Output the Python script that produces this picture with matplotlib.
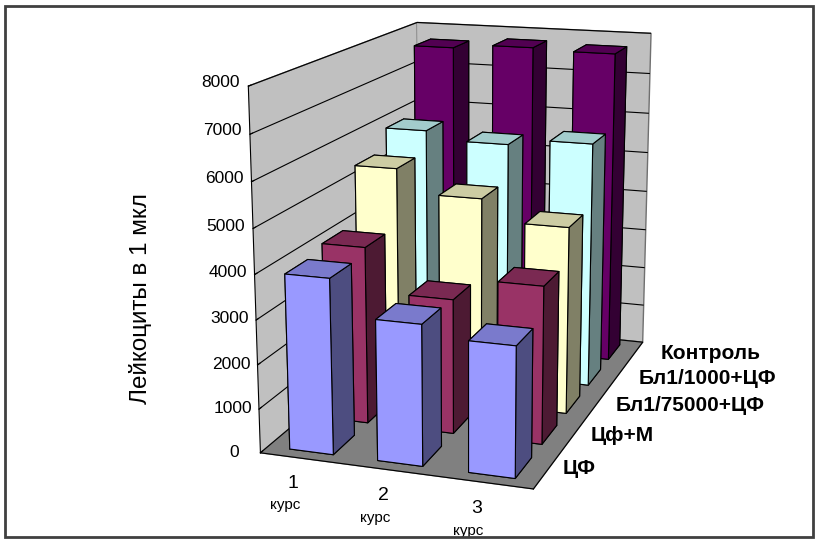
import numpy as np
import matplotlib
matplotlib.use('Agg')
import matplotlib.pyplot as plt
from matplotlib.colors import to_rgba
from matplotlib.patches import Rectangle
from mpl_toolkits.mplot3d import proj3d

plt.rcParams['font.family'] = ['Liberation Sans', 'DejaVu Sans']

# data (leukocytes per 1 mcl)
courses = ['1', '2', '3']
course_word = 'курс'
series = ['ЦФ', 'Цф+М', 'Бл1/75000+ЦФ', 'Бл1/1000+ЦФ', 'Контроль']
cf = [3950, 3150, 2900]
cf_m = [4100, 3100, 3600]
bl_75000 = [5450, 4900, 4400]
bl_1000 = [5950, 5750, 5900]
control = [7650, 7750, 7700]
colors = ['#9999FF', '#993366', '#FFFFCC', '#CCFFFF', '#660066']

rows = [cf, cf_m, bl_75000, bl_1000, control]

fig = plt.figure(figsize=(8.2, 5.47), dpi=100)
ax = fig.add_axes([0.229, 0.0675, 0.667, 1.0], projection='3d')
ax.set_proj_type('persp', focal_length=0.58)
ax.view_init(elev=14.7, azim=-71.5)
ax.set_box_aspect((289, 470, 377), zoom=1.09)

# one collection for all bars so faces get depth-sorted together
xs, ys, dz, fc = [], [], [], []
bw, bd = 0.5, 0.6
for j, vals in enumerate(rows):
    base = np.array(to_rgba(colors[j]))
    top = base * [0.8, 0.8, 0.8, 1]
    side = base * [0.5, 0.5, 0.5, 1]
    for i, v in enumerate(vals):
        xs.append(i + 0.5 - bw / 2)
        ys.append(j + 0.5 - bd / 2)
        dz.append(v)
        # -z, +z, -y, +y, -x, +x
        fc.extend([base, top, base, base, base, side])

ax.bar3d(xs, ys, np.zeros(len(xs)), bw, bd, dz, color=fc, shade=False,
         edgecolor='black', linewidth=0.8)

ax.set_xlim(0, 3)
ax.set_ylim(0, 5)
ax.set_zlim(0, 8000)

ax.xaxis.set_pane_color('#c0c0c0')
ax.yaxis.set_pane_color('#c0c0c0')
ax.zaxis.set_pane_color('#808080')
for a in (ax.xaxis, ax.yaxis, ax.zaxis):
    a.pane.set_edgecolor('#707070')
    a.line.set_color('black')
    a.line.set_linewidth(0.8)
    a.label.set_visible(False)

ax.grid(True)
ax.zaxis._axinfo['grid'].update(color='black', linewidth=0.8, linestyle='-')
ax.zaxis._axinfo['tick']['inward_factor'] = 0
ax.zaxis._axinfo['tick']['outward_factor'] = 0.15
ax.zaxis.set_ticks_position('lower')

ax.set_zticks(range(0, 8001, 1000))
ax.set_zticklabels([str(t) for t in range(0, 8001, 1000)], fontsize=12.5,
                   va='bottom')
ax.set_xticks([])
ax.set_yticks([])

# draw once so the projection is known, then put the category labels
# at projected data points as plain 2D texts
fig.canvas.draw()
M = ax.get_proj()


def label_at(x, y, z, s, **kw):
    px, py, _ = proj3d.proj_transform(x, y, z, M)
    ax.text2D(px, py, s, transform=ax.transData, **kw)


for i, c in enumerate(courses):
    label_at(i + 0.5, -0.3, -330, c, fontsize=14, ha='center', va='center')
    label_at(i + 0.43, -0.35, -800, course_word, fontsize=11,
             ha='center', va='center')
for j, s in enumerate(series):
    label_at(3.17 + 0.04 * j, j + 0.5, 100, s, fontsize=15, fontweight='bold',
             ha='left', va='center')

fig.text(0.171, 0.455, 'Лейкоциты в 1 мкл', rotation=90, fontsize=17.5,
         ha='center', va='center')

fig.add_artist(Rectangle((0.006, 0.018), 0.985, 0.971, transform=fig.transFigure,
                         fill=False, edgecolor='#404040', linewidth=2))

fig.savefig('out.png', dpi=100)
